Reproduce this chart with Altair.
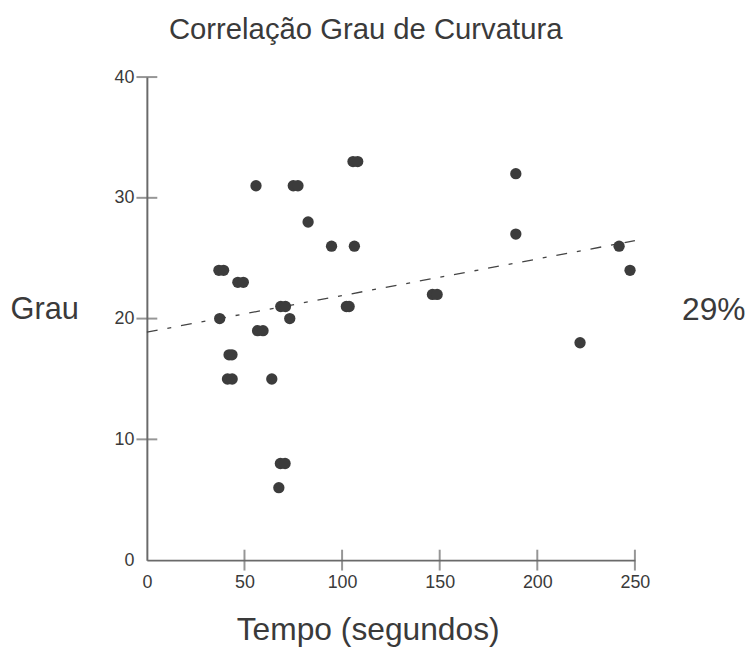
import altair as alt
import pandas as pd

# Data
tempo = [55.9, 75.0, 77.4, 105.6, 108.0, 82.6, 94.6, 106.3, 36.9, 39.3,
         46.6, 49.4, 37.3, 68.6, 71.0, 73.2, 102.2, 103.6, 56.7, 59.5,
         42.1, 43.6, 41.3, 43.7, 64.0, 68.4, 70.8, 67.6, 189.0, 189.0,
         146.3, 148.7, 241.9, 247.5, 221.9]
grau = [31, 31, 31, 33, 33, 28, 26, 26, 24, 24,
        23, 23, 20, 21, 21, 20, 21, 21, 19, 19,
        17, 17, 15, 15, 15, 8, 8, 6, 32, 27,
        22, 22, 26, 24, 18]
trend_tempo = [0, 250]
trend_grau = [18.88, 26.45]
x_label_values = [0, 50, 100, 150, 200, 250]
y_label_values = [0, 10, 20, 30, 40]
x_tick_values = [50, 100, 150, 200, 250]
y_tick_values = [10, 20, 30, 40]
correlation_text = "29%"
title_text = "Correlação Grau de Curvatura"

FONT = "Liberation Sans"
AXIS_COLOR = "#6a6a6a"
TEXT_COLOR = "#3a3a3a"
DOT_COLOR = "#3c3c3c"

W, H = 492, 487

points_df = pd.DataFrame({"tempo": tempo, "grau": grau})
trend_df = pd.DataFrame({"tempo": trend_tempo, "grau": trend_grau})
xt_df = pd.DataFrame({"tempo": x_tick_values})
yt_df = pd.DataFrame({"grau": y_tick_values})

x_scale = alt.Scale(domain=[0, 250], nice=False, zero=False)
y_scale = alt.Scale(domain=[0, 40], nice=False, zero=False)

x_axis = alt.Axis(values=x_label_values, ticks=False, tickSize=0, grid=False,
                  labelPadding=14, labelFontSize=18, labelFont=FONT,
                  labelColor=TEXT_COLOR, labelFlush=False, labelOverlap=False,
                  domainColor=AXIS_COLOR, domainWidth=2,
                  title="Tempo (segundos)", titleFont=FONT, titleFontSize=32,
                  titleFontWeight="normal", titleColor=TEXT_COLOR,
                  titleX=222.6, titleY=80, titleAlign="center",
                  titleBaseline="alphabetic")
y_axis = alt.Axis(values=y_label_values, ticks=False, tickSize=0, grid=False,
                  labelPadding=13, labelFontSize=18, labelFont=FONT,
                  labelColor=TEXT_COLOR, labelFlush=False, labelOverlap=False,
                  domainColor=AXIS_COLOR, domainWidth=2,
                  title="Grau", titleFont=FONT, titleFontSize=31,
                  titleFontWeight="normal", titleColor=TEXT_COLOR,
                  titleAngle=0, titleX=-138, titleY=243, titleAlign="left",
                  titleBaseline="alphabetic")

points = alt.Chart(points_df).mark_circle(size=130, opacity=1, color=DOT_COLOR).encode(
    x=alt.X("tempo:Q", scale=x_scale, axis=x_axis),
    y=alt.Y("grau:Q", scale=y_scale, axis=y_axis),
)

trend = alt.Chart(trend_df).mark_line(
    color="#444444", strokeWidth=1.3, strokeDash=[11, 10, 4, 10]
).encode(
    x=alt.X("tempo:Q", scale=x_scale),
    y=alt.Y("grau:Q", scale=y_scale),
)

x_ticks = alt.Chart(xt_df).mark_tick(
    orient="vertical", size=21, thickness=2, color=AXIS_COLOR
).encode(
    x=alt.X("tempo:Q", scale=x_scale),
    y=alt.value(H),
)

y_ticks = alt.Chart(yt_df).mark_tick(
    orient="horizontal", size=21, thickness=2, color=AXIS_COLOR
).encode(
    y=alt.Y("grau:Q", scale=y_scale),
    x=alt.value(0),
)

corr = alt.Chart(pd.DataFrame({"t": [correlation_text]})).mark_text(
    font=FONT, fontSize=32, color=TEXT_COLOR, align="left", baseline="alphabetic"
).encode(
    text="t:N", x=alt.value(539.5), y=alt.value(245),
)

title = alt.Chart(pd.DataFrame({"t": [title_text]})).mark_text(
    font=FONT, fontSize=29.5, color=TEXT_COLOR, align="center", baseline="alphabetic"
).encode(
    text="t:N", x=alt.value(220.6), y=alt.value(-38),
)

chart = alt.layer(trend, points, x_ticks, y_ticks, corr, title).properties(
    width=W, height=H,
    autosize=alt.AutoSizeParams(type="none"),
    padding={"left": 140, "top": 67, "right": 112, "bottom": 90},
    background="white",
).configure_view(stroke=None)

chart.save("out.html", embed_options={"renderer": "svg", "actions": False})
